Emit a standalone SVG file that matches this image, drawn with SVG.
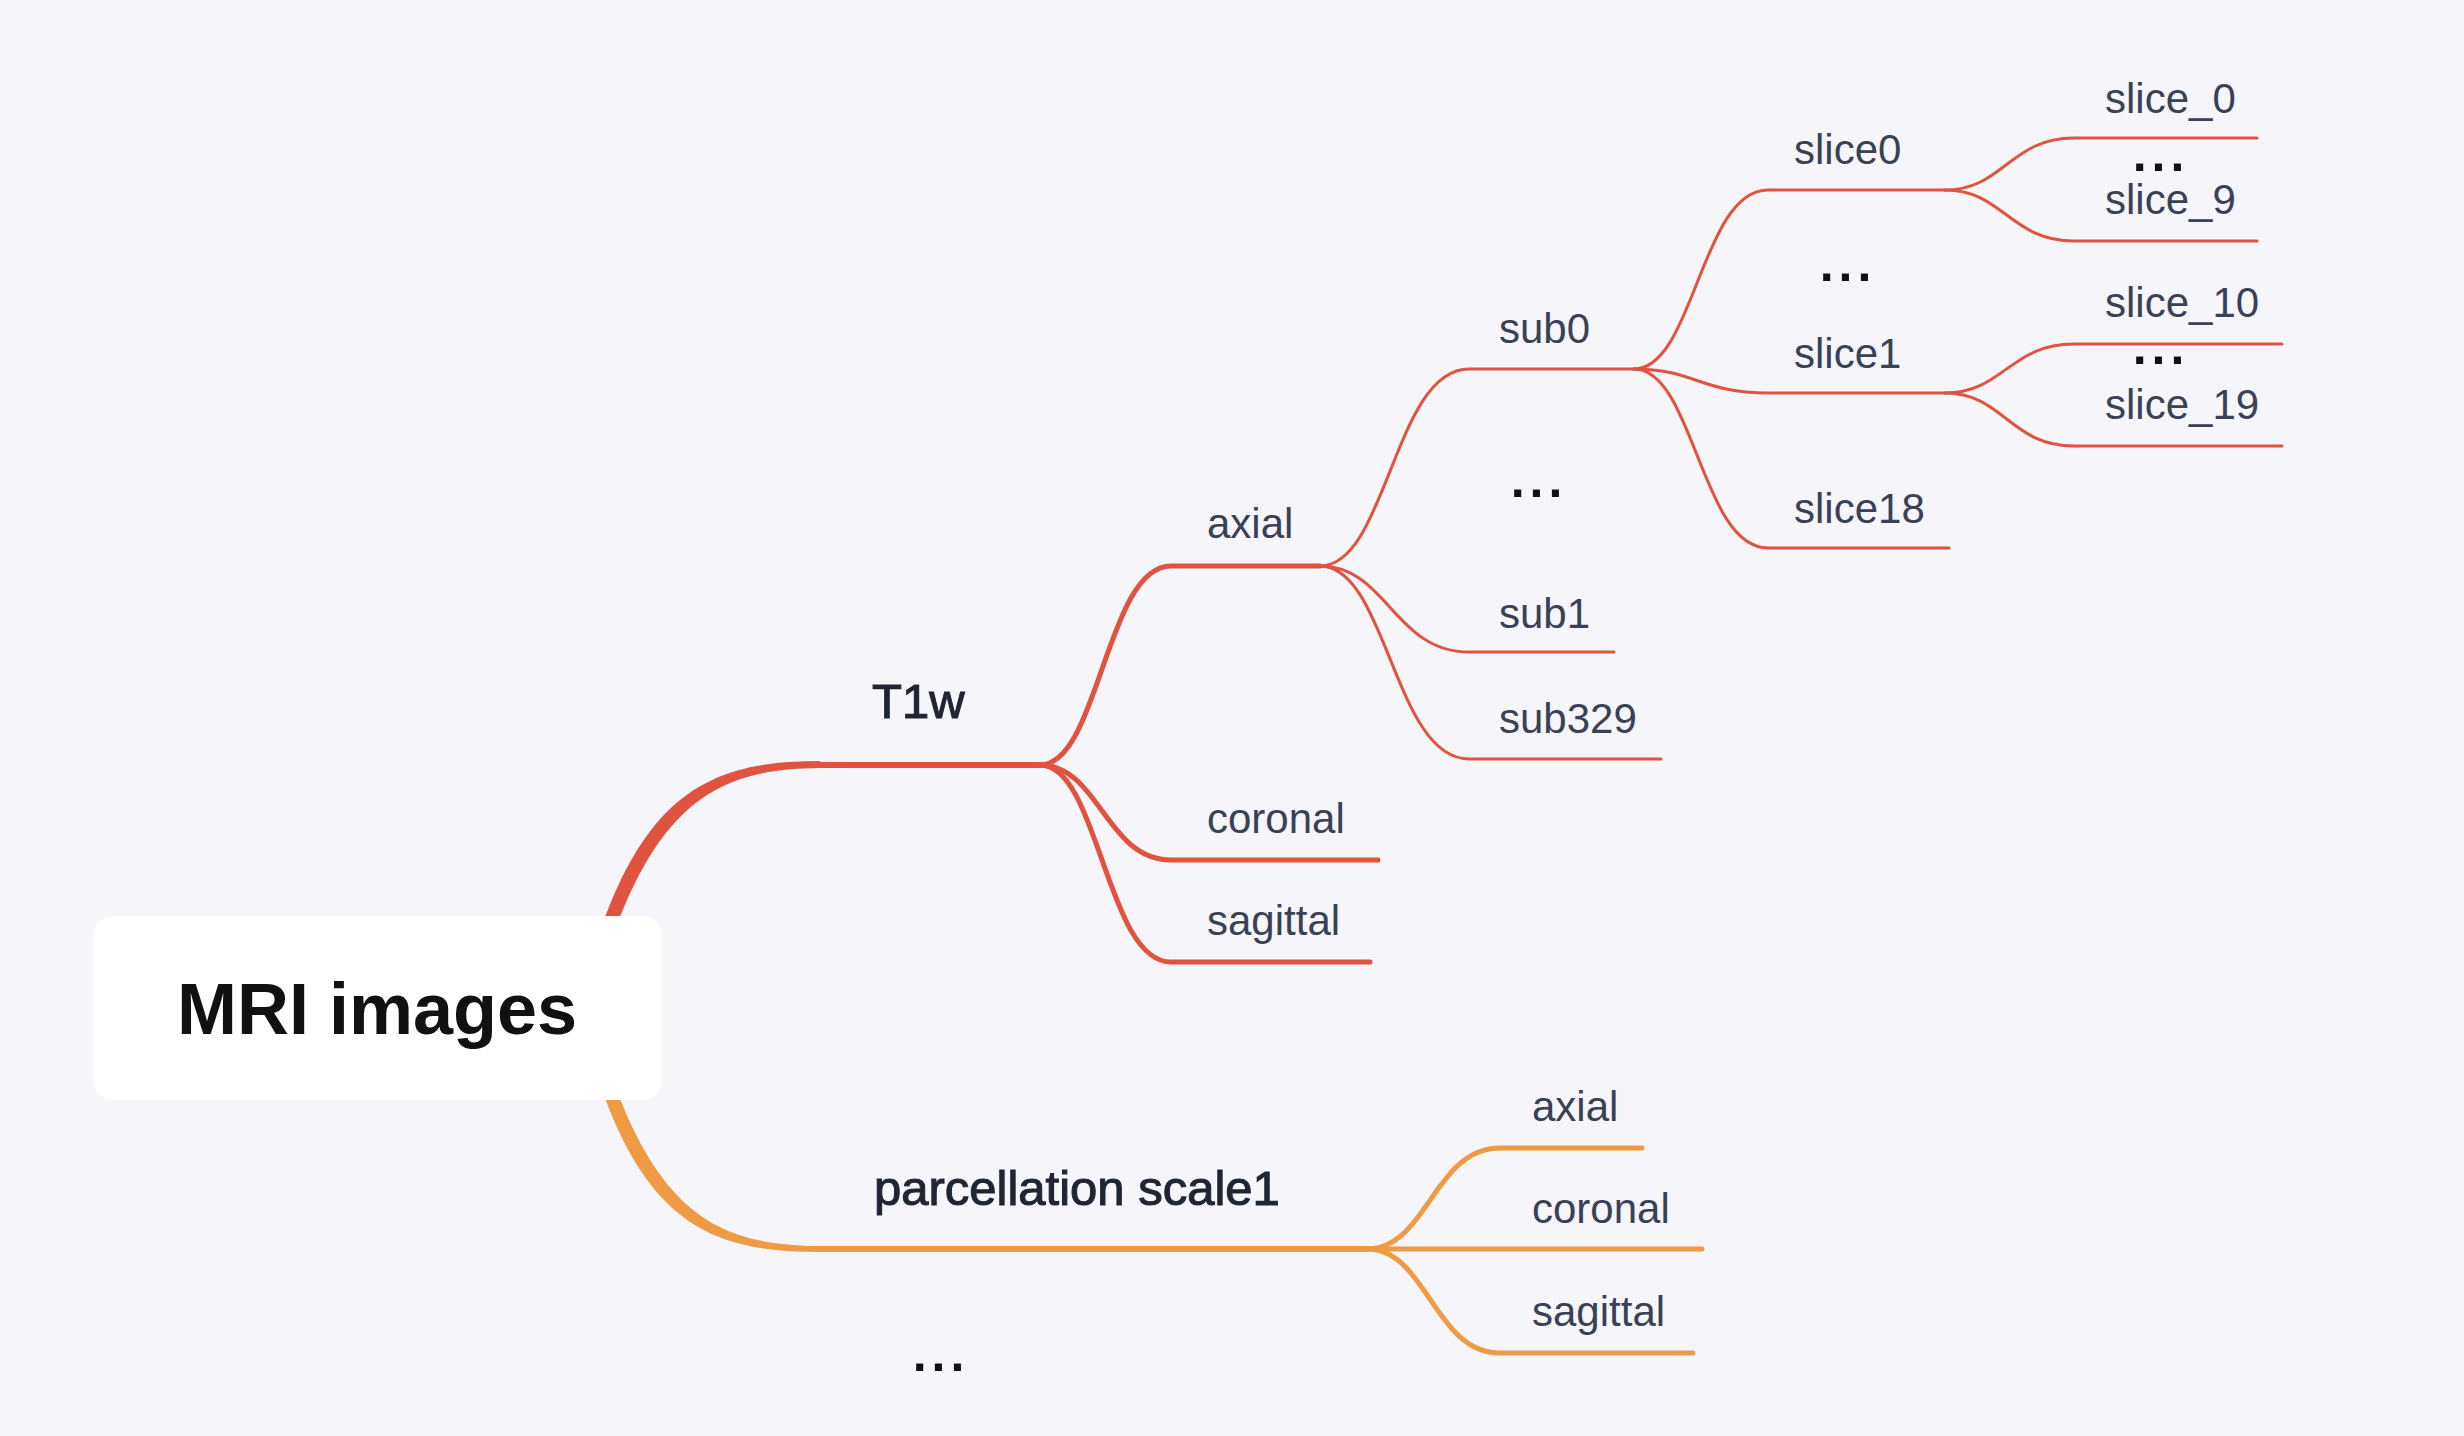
<svg xmlns="http://www.w3.org/2000/svg" width="2464" height="1436" viewBox="0 0 2464 1436">
<style>
  .bg { fill: #F5F5FA; }
  .red { fill: none; stroke: #E0533F; stroke-linecap: round; }
  .org { fill: none; stroke: #EE9B43; stroke-linecap: round; }
  .w6 { stroke-width: 6; }
  .w5 { stroke-width: 5; }
  .w3 { stroke-width: 3; }
  .root { font-family: "Liberation Sans", Arial, sans-serif; font-size: 72px; font-weight: bold; fill: #111111; }
  .l1 { font-family: "Liberation Sans", Arial, sans-serif; font-size: 49px; font-weight: normal; fill: #1F2533; stroke: #1F2533; stroke-width: 1.1px; }
  .lab { font-family: "Liberation Sans", Arial, sans-serif; font-size: 42px; fill: #3A4155; }
  .dots { font-family: "Liberation Sans", Arial, sans-serif; font-size: 50px; font-weight: bold; fill: #111111; letter-spacing: 5px; text-anchor: middle; }
</style>
<rect class="bg" x="0" y="0" width="2464" height="1436"/>

<g id="connectors">
  <!-- root to T1w (tapered) -->
  <path d="M 594 950 C 644 790, 714 761, 820 761 L 820 768 C 724 769, 660 796, 608 950 Z" fill="#E0533F"/>
  <path class="red w6" d="M 815 765 L 1040 765"/>
  <!-- root to parcellation scale1 (tapered) -->
  <path d="M 594 1066 C 644 1226, 714 1252, 820 1252 L 820 1246 C 724 1245, 660 1220, 608 1066 Z" fill="#EE9B43"/>
  <path class="org w6" d="M 815 1249 L 1367 1249"/>

  <!-- T1w children -->
  <path class="red w5" d="M 1040 765 C 1099 765, 1106 566, 1171 566 L 1320 566"/>
  <path class="red w5" d="M 1040 765 C 1099 765, 1106 860, 1171 860 L 1378 860"/>
  <path class="red w5" d="M 1040 765 C 1099 765, 1106 962, 1171 962 L 1370 962"/>

  <!-- axial children -->
  <path class="red w3" d="M 1320 566 C 1387 566, 1394 369, 1469 369 L 1634 369"/>
  <path class="red w3" d="M 1320 566 C 1387 566, 1394 652, 1469 652 L 1614 652"/>
  <path class="red w3" d="M 1320 566 C 1387 566, 1394 759, 1469 759 L 1661 759"/>

  <!-- sub0 children -->
  <path class="red w3" d="M 1634 369 C 1694 369, 1701 190, 1768 190 L 1945 190"/>
  <path class="red w3" d="M 1634 369 C 1694 369, 1701 393, 1768 393 L 1945 393"/>
  <path class="red w3" d="M 1634 369 C 1694 369, 1701 548, 1768 548 L 1949 548"/>

  <!-- slice0 children -->
  <path class="red w3" d="M 1945 190 C 2003 190, 2010 138, 2074 138 L 2257 138"/>
  <path class="red w3" d="M 1945 190 C 2003 190, 2010 241, 2074 241 L 2257 241"/>
  <!-- slice1 children -->
  <path class="red w3" d="M 1945 393 C 2003 393, 2010 344, 2074 344 L 2282 344"/>
  <path class="red w3" d="M 1945 393 C 2003 393, 2010 446, 2074 446 L 2282 446"/>

  <!-- parcellation children -->
  <path class="org w5" d="M 1367 1249 C 1427 1249, 1434 1148, 1500 1148 L 1642 1148"/>
  <path class="org w5" d="M 1367 1249 L 1702 1249"/>
  <path class="org w5" d="M 1367 1249 C 1427 1249, 1434 1353, 1500 1353 L 1693 1353"/>
</g>

<g id="node-root">
  <rect x="93" y="916" width="569" height="184" rx="20" ry="20" fill="#FFFFFF"/>
  <text class="root" x="377" y="1034" text-anchor="middle">MRI images</text>
</g>

<g id="node-t1w"><text class="l1" x="872" y="718">T1w</text></g>
<g id="node-parcellation"><text class="l1" x="874" y="1205">parcellation scale1</text></g>
<g id="node-more-root"><text class="dots" x="941" y="1371">...</text></g>

<g id="node-t1w-axial"><text class="lab" x="1207" y="538">axial</text></g>
<g id="node-t1w-coronal"><text class="lab" x="1207" y="833">coronal</text></g>
<g id="node-t1w-sagittal"><text class="lab" x="1207" y="935">sagittal</text></g>

<g id="node-sub0"><text class="lab" x="1499" y="343">sub0</text></g>
<g id="node-sub-more"><text class="dots" x="1539" y="497">...</text></g>
<g id="node-sub1"><text class="lab" x="1499" y="628">sub1</text></g>
<g id="node-sub329"><text class="lab" x="1499" y="733">sub329</text></g>

<g id="node-slice0"><text class="lab" x="1794" y="164">slice0</text></g>
<g id="node-slice-more"><text class="dots" x="1848" y="281">...</text></g>
<g id="node-slice1"><text class="lab" x="1794" y="368">slice1</text></g>
<g id="node-slice18"><text class="lab" x="1794" y="523">slice18</text></g>

<g id="node-slice_0"><text class="lab" x="2105" y="113">slice_0</text></g>
<g id="node-slice_0-more"><text class="dots" x="2161" y="171">...</text></g>
<g id="node-slice_9"><text class="lab" x="2105" y="214">slice_9</text></g>
<g id="node-slice_10"><text class="lab" x="2105" y="317">slice_10</text></g>
<g id="node-slice_10-more"><text class="dots" x="2161" y="364">...</text></g>
<g id="node-slice_19"><text class="lab" x="2105" y="419">slice_19</text></g>

<g id="node-p-axial"><text class="lab" x="1532" y="1121">axial</text></g>
<g id="node-p-coronal"><text class="lab" x="1532" y="1223">coronal</text></g>
<g id="node-p-sagittal"><text class="lab" x="1532" y="1326">sagittal</text></g>
</svg>
